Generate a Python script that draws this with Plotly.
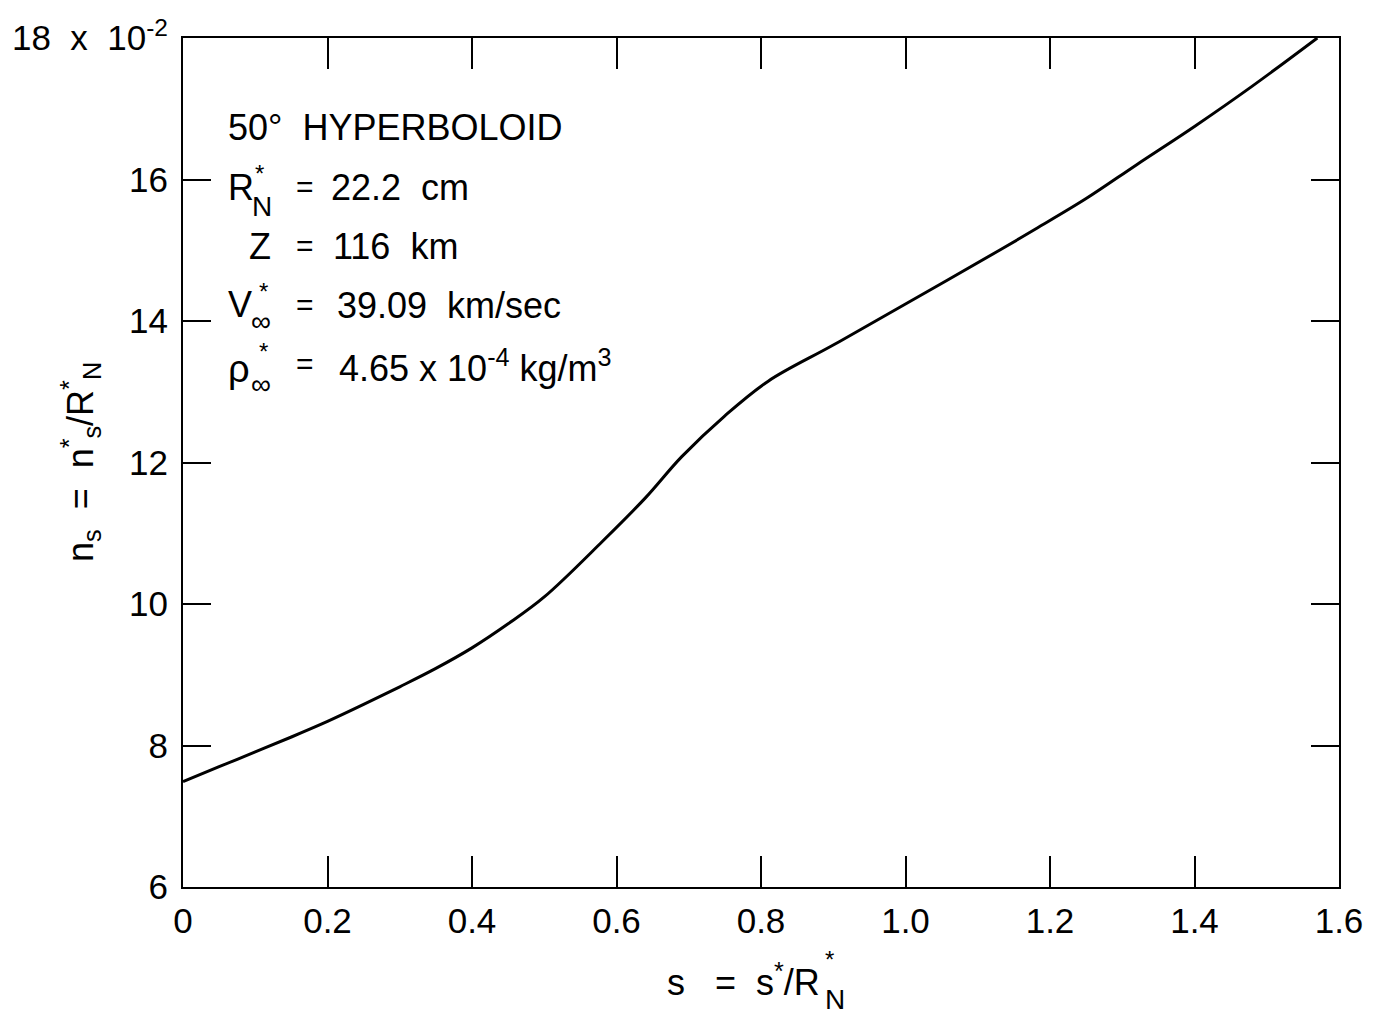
import plotly.graph_objects as go

# ---- data ----
s_vals = [0.00, 0.05, 0.10, 0.15, 0.20, 0.25, 0.30, 0.35, 0.40, 0.45, 0.50,
          0.58, 0.64, 0.69, 0.75, 0.81, 0.90, 1.00, 1.13, 1.18, 1.25, 1.32,
          1.40, 1.48, 1.57]
ns_vals = [7.49, 7.70, 7.91, 8.12, 8.34, 8.58, 8.83, 9.09, 9.38, 9.72, 10.10,
           10.88, 11.50, 12.08, 12.66, 13.15, 13.66, 14.24, 15.00, 15.30, 15.73,
           16.21, 16.75, 17.32, 18.00]

x_ticks = [0, 0.2, 0.4, 0.6, 0.8, 1.0, 1.2, 1.4, 1.6]
x_ticktext = ["0", "0.2", "0.4", "0.6", "0.8", "1.0", "1.2", "1.4", "1.6"]
y_ticks = [6, 8, 10, 12, 14, 16, 18]
NB = "\u00a0"
y_ticktext = ["6", "8", "10", "12", "14", "16",
              "18" + NB + NB + "x" + NB + NB + "10<sup>-2</sup>"]

FONT = "Liberation Sans, Arial, sans-serif"

# plot area in pixels
L, R, T, B = 183, 1339, 38, 887
W, H = 1377, 1014


def P(px, py):
    return (px - L) / (R - L), (B - py) / (B - T)


fig = go.Figure()
fig.add_trace(go.Scatter(x=s_vals, y=ns_vals, mode="lines",
                         line=dict(color="black", width=3, shape="spline", smoothing=1.0),
                         showlegend=False, hoverinfo="skip"))

annos = []


def txt(px, py, text, size=36, xanchor="left", angle=0):
    x, y = P(px, py)
    annos.append(dict(x=x, y=y, xref="paper", yref="paper", text=text, showarrow=False,
                      xanchor=xanchor, yanchor="middle", textangle=angle, borderpad=0,
                      font=dict(family=FONT, size=size, color="black")))


# parameter block
txt(227, 128, "50°" + NB + NB + "HYPERBOLOID")
# R*_N = 22.2 cm
txt(227, 187, "R")
txt(254, 173, "*", size=24)
txt(251, 207, "N", size=28)
txt(295, 186, "=", size=30)
txt(330, 187, "22.2" + NB + NB + "cm")
# Z = 116 km
txt(248, 247, "Z")
txt(295, 246, "=", size=30)
txt(332, 247, "116" + NB + NB + "km")
# V*_inf = 39.09 km/sec
txt(227, 304, "V")
txt(258, 291, "*", size=24)
txt(250, 321, "\u221e", size=28)
txt(295, 304, "=", size=30)
txt(336, 305, "39.09" + NB + NB + "km/sec")
# rho*_inf = 4.65 x 10^-4 kg/m^3
txt(227, 369, "\u03c1", size=38)
txt(258, 352, "*", size=24)
txt(250, 384, "\u221e", size=28)
txt(295, 364, "=", size=30)
txt(338, 366, "4.65" + NB + "x" + NB + "10<sup>-4</sup>" + NB + "kg/m<sup>3</sup>")

# x-axis title
txt(821, 980, "s" + NB + NB + NB + "=" + NB + NB + "s<sup>*</sup>/R", xanchor="right")
txt(824, 959, "*", size=24)
txt(824, 999, "N", size=28)

# y-axis title (rotated)
txt(80, 462, "n<sub>s</sub>" + NB + NB + "=" + NB + NB + "n<sup>*</sup><sub>s</sub>/R<sup>*</sup><sub>N</sub>",
    size=36, xanchor="center", angle=-90)

fig.update_layout(
    width=W, height=H,
    margin=dict(l=L, r=W - R, t=T, b=H - B, pad=0),
    paper_bgcolor="white", plot_bgcolor="white",
    font=dict(family=FONT, size=35, color="black"),
    annotations=annos,
    xaxis=dict(range=[0, 1.6], tickvals=x_ticks, ticktext=x_ticktext,
               ticks="inside", ticklen=31, tickwidth=2, tickcolor="black",
               showline=True, linewidth=2, linecolor="black", mirror="ticks",
               showgrid=False, zeroline=False, ticklabelstandoff=2,
               tickfont=dict(family=FONT, size=35, color="black")),
    yaxis=dict(range=[6, 18], tickvals=y_ticks, ticktext=y_ticktext,
               ticks="inside", ticklen=28, tickwidth=2, tickcolor="black",
               showline=True, linewidth=2, linecolor="black", mirror="ticks",
               showgrid=False, zeroline=False, ticklabelstandoff=6,
               tickfont=dict(family=FONT, size=35, color="black")),
)

fig.write_html("out.html")
